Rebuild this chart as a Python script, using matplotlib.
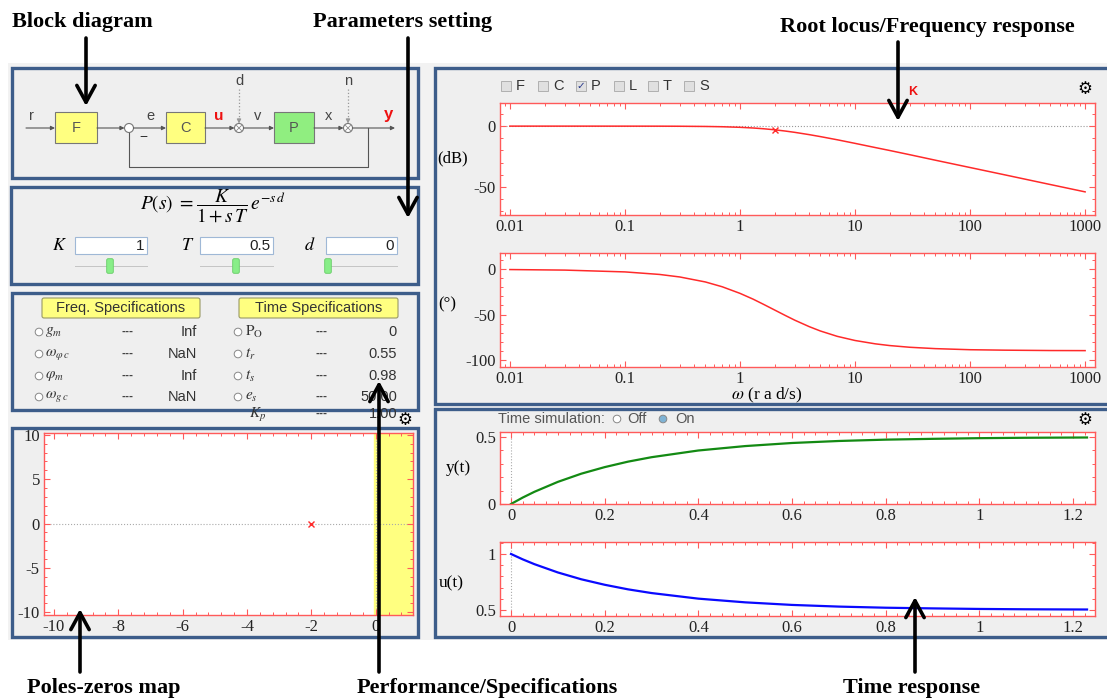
"""Control GUI screenshot (block diagram, specs, Bode, time response) redrawn with matplotlib."""

import matplotlib

matplotlib.use("Agg")
import matplotlib.pyplot as plt
from matplotlib.patches import Circle, FancyBboxPatch, Rectangle
from matplotlib.ticker import FuncFormatter, LogLocator, MultipleLocator, NullFormatter

W, H = 1107, 698

# ---- data ----
# Bode of P(s) = K/(1+sT) e^{-sd}, K=1, T=0.5, d=0
omega = [0.01, 0.03, 0.1, 0.2, 0.3, 0.5, 0.7, 1, 1.3, 1.6, 2, 2.5, 3, 4, 5, 7, 10, 15, 20,
         30, 50, 100, 200, 500, 1000]
mag_db = [0, 0, -0.02, -0.04, -0.1, -0.27, -0.5, -0.97, -1.53, -2.15, -3.01, -4.09, -5.12,
          -6.99, -8.6, -11.2, -14.15, -17.6, -20.0, -23.5, -28.0, -34.0, -40.0, -48.0, -54.0]
phase_deg = [-0.3, -0.9, -2.9, -5.7, -8.5, -14.0, -19.3, -26.6, -33.0, -38.7, -45.0, -51.3,
             -56.3, -63.4, -68.2, -74.1, -78.7, -82.4, -84.3, -86.2, -87.7, -88.9, -89.4,
             -89.8, -89.9]
marker_omega = [2.0]
marker_db = [-3.0]

# closed loop step response
t = [0, 0.025, 0.05, 0.1, 0.15, 0.2, 0.25, 0.3, 0.4, 0.5, 0.6, 0.7, 0.8, 0.9, 1.0, 1.1, 1.23]
y_t = [0, 0.048, 0.091, 0.165, 0.226, 0.275, 0.316, 0.349, 0.399, 0.432, 0.455, 0.470,
       0.480, 0.486, 0.491, 0.494, 0.496]
u_t = [1.0, 0.952, 0.909, 0.835, 0.774, 0.725, 0.684, 0.651, 0.601, 0.568, 0.545, 0.530,
       0.520, 0.514, 0.509, 0.506, 0.504]

# poles / zeros
pole_re = [-2.0]
pole_im = [0.0]

# specification table
freq_specs = [r"$g_m$", r"$\omega_{\varphi\, c}$", r"$\varphi_m$", r"$\omega_{g\, c}$"]
freq_vals = ["Inf", "NaN", "Inf", "NaN"]
time_specs = [r"$\mathrm{P_O}$", r"$t_r$", r"$t_s$", r"$e_s$"]
time_vals = ["0", "0.55", "0.98", "50.00"]

param_names = ["K", "T", "d"]
param_vals = ["1", "0.5", "0"]
checkboxes = ["F", "C", "P", "L", "T", "S"]
checked = "P"

# ---- styles ----
PANEL_BG = "#efefef"
PANEL_EDGE = "#3d5d8a"
FRAME_RED = "#ff5a5a"
CURVE_RED = "#ff2a2a"
SANS = "Liberation Sans"
SERIF = "Liberation Serif"
GRAY_TXT = "#444444"
TICK_FS = 12

plt.rcParams["font.family"] = [SERIF, "DejaVu Serif"]
plt.rcParams["mathtext.fontset"] = "stix"
plt.rcParams["axes.unicode_minus"] = False

fig = plt.figure(figsize=(W / 100, H / 100), dpi=100, facecolor="white")

bg = fig.add_axes([0, 0, 1, 1], zorder=0)
bg.set_xlim(0, W)
bg.set_ylim(H, 0)
bg.axis("off")

fg = fig.add_axes([0, 0, 1, 1], zorder=20)
fg.set_xlim(0, W)
fg.set_ylim(H, 0)
fg.axis("off")


def px_axes(x0, y0, x1, y1):
    return fig.add_axes([x0 / W, 1 - y1 / H, (x1 - x0) / W, (y1 - y0) / H], zorder=5)


def style_plot(ax):
    for s in ax.spines.values():
        s.set_color(FRAME_RED)
        s.set_linewidth(1.0)
    ax.tick_params(which="both", direction="in", color=FRAME_RED, top=True, right=True,
                   labelsize=TICK_FS, labelcolor="#222222", pad=3)
    ax.tick_params(which="major", length=4, width=0.8)
    ax.tick_params(which="minor", length=2.5, width=0.7)


def panel(x0, y0, x1, y1):
    bg.add_patch(Rectangle((x0, y0), x1 - x0, y1 - y0, facecolor=PANEL_BG,
                           edgecolor=PANEL_EDGE, lw=2.4))


def arrow(ax, x0, y0, x1, y1, color="#555555", lw=0.8, scale=6, style="-|>"):
    ax.annotate("", xy=(x1, y1), xytext=(x0, y0),
                arrowprops=dict(arrowstyle=style, color=color, lw=lw,
                                mutation_scale=scale, shrinkA=0, shrinkB=0))


def radio(ax, x, y, filled=False):
    ax.add_patch(Circle((x, y), 3.8, facecolor="#7fb3d5" if filled else "white",
                        edgecolor="#888888", lw=0.7, zorder=3))


# app background
bg.add_patch(Rectangle((8, 63), W - 8, 577, facecolor="#f2f2f2", edgecolor="none"))

# panels
panel(12, 68, 418, 178)
panel(11, 187, 418, 284)
panel(12, 293, 418, 410)
panel(12, 428, 418, 637)
panel(435, 68, 1112, 404)
panel(435, 409, 1112, 637)

# ---- block diagram ----
LINE = "#555555"
UI_FS = 10.5
ymain = 128
arrow(bg, 26, ymain, 55, ymain)
bg.add_patch(Rectangle((55, 112), 42, 31, facecolor="#ffff80", edgecolor="#777777", lw=0.8))
bg.text(76, 128, "F", ha="center", va="center", fontsize=UI_FS, family=SANS, color="#555555")
arrow(bg, 97, ymain, 124.5, ymain)
bg.add_patch(Circle((129, ymain), 4.5, facecolor="white", edgecolor="#777777", lw=0.8, zorder=3))
arrow(bg, 133.5, ymain, 166, ymain)
bg.add_patch(Rectangle((166, 112), 39, 31, facecolor="#ffff80", edgecolor="#777777", lw=0.8))
bg.text(185.5, 128, "C", ha="center", va="center", fontsize=UI_FS, family=SANS, color="#555555")
arrow(bg, 205, ymain, 234.5, ymain)
bg.add_patch(Circle((239, ymain), 4.5, facecolor="white", edgecolor="#777777", lw=0.8, zorder=3))
arrow(bg, 243.5, ymain, 274, ymain)
bg.add_patch(Rectangle((274, 112), 40, 31, facecolor="#90ee80", edgecolor="#777777", lw=0.8))
bg.text(294, 128, "P", ha="center", va="center", fontsize=UI_FS, family=SANS, color="#555555")
arrow(bg, 314, ymain, 343.5, ymain)
bg.add_patch(Circle((348, ymain), 4.5, facecolor="white", edgecolor="#777777", lw=0.8, zorder=3))
arrow(bg, 352.5, ymain, 395, ymain)
for cx in (239, 348):
    bg.plot([cx - 2.5, cx + 2.5], [ymain - 2.5, ymain + 2.5], color="#888888", lw=0.6, zorder=4)
    bg.plot([cx - 2.5, cx + 2.5], [ymain + 2.5, ymain - 2.5], color="#888888", lw=0.6, zorder=4)
    bg.plot([cx, cx], [89, ymain - 8], color="#999999", lw=0.9, ls=":")
    arrow(bg, cx, ymain - 9, cx, ymain - 4.5, color="#999999", lw=0.8)
bg.plot([368, 368, 129, 129], [ymain, 167, 167, ymain + 4.5], color=LINE, lw=0.8)
for x, s in [(31, "r"), (150, "e"), (258, "v"), (329, "x")]:
    bg.text(x, 116, s, ha="center", va="center", fontsize=UI_FS, family=SANS, color=GRAY_TXT)
bg.text(239, 81, "d", ha="center", va="center", fontsize=UI_FS, family=SANS, color=GRAY_TXT)
bg.text(348, 81, "n", ha="center", va="center", fontsize=UI_FS, family=SANS, color=GRAY_TXT)
bg.text(219, 116, "u", ha="center", va="center", fontsize=11, family=SANS, color="#ee1111",
        weight="bold")
bg.text(388, 115, "y", ha="center", va="center", fontsize=12, family=SANS, color="#ee1111",
        weight="bold")
bg.text(143, 137, "−", ha="center", va="center", fontsize=10, family=SANS, color="#333333")

# ---- parameter panel ----
bg.text(213, 206, r"$P(s)\ =\dfrac{K}{1+s\,T}\,e^{-s\,d}$", ha="center", va="center",
        fontsize=14)
box_x = [(75, 147, 60), (200, 273, 188), (326, 397, 310)]
for (x0, x1, xl), name, val in zip(box_x, param_names, param_vals):
    bg.text(xl, 245, f"${name}$", ha="center", va="center", fontsize=13)
    bg.add_patch(Rectangle((x0, 237), x1 - x0, 17, facecolor="white", edgecolor="#9fb8d6", lw=0.8))
    bg.text(x1 - 3, 246, val, ha="right", va="center", fontsize=11, family=SANS, color="#222222")
    bg.plot([x0, x1], [266, 266], color="#c4c4c4", lw=0.7)
handles = [110, 236, 328]
for hx in handles:
    bg.add_patch(FancyBboxPatch((hx - 3, 259), 6, 14, boxstyle="round,pad=0.3,rounding_size=1.5",
                                facecolor="#88ee88", edgecolor="#66cc66", lw=0.6, zorder=3))

# ---- specifications panel ----
for x0, x1, label in [(42, 200, "Freq. Specifications"), (239, 398, "Time Specifications")]:
    bg.add_patch(FancyBboxPatch((x0, 298), x1 - x0, 20, boxstyle="round,pad=0,rounding_size=2",
                                facecolor="#ffff80", edgecolor="#999966", lw=0.8))
    bg.text((x0 + x1) / 2, 308, label, ha="center", va="center", fontsize=10.5, family=SANS,
            color="#333333")
SYM_FS = 11
rows_y = [332, 354, 376, 397]
for ry, fs, fv, ts, tv in zip(rows_y, freq_specs, freq_vals, time_specs, time_vals):
    radio(bg, 39, ry)
    bg.text(45, ry, fs, ha="left", va="center", fontsize=SYM_FS, color="#333333")
    bg.text(127, ry, "---", ha="center", va="center", fontsize=8.5, family=SANS, color=GRAY_TXT,
            weight="bold")
    bg.text(197, ry, fv, ha="right", va="center", fontsize=UI_FS, family=SANS, color="#333333")
    radio(bg, 238, ry)
    bg.text(245, ry, ts, ha="left", va="center", fontsize=SYM_FS, color="#333333")
    bg.text(322, ry, "---", ha="center", va="center", fontsize=8.5, family=SANS, color=GRAY_TXT,
            weight="bold")
    bg.text(397, ry, tv, ha="right", va="center", fontsize=UI_FS, family=SANS, color="#333333")
bg.text(249, 415, r"$K_p$", ha="left", va="center", fontsize=SYM_FS, color="#333333")
bg.text(322, 414, "---", ha="center", va="center", fontsize=8.5, family=SANS, color=GRAY_TXT,
        weight="bold")
bg.text(397, 414, "1.00", ha="right", va="center", fontsize=UI_FS, family=SANS, color="#333333")

# gear icons
for gx, gy in [(405, 420), (1085, 89), (1085, 420)]:
    bg.text(gx, gy, "\u2699", ha="center", va="center", fontsize=12, family="DejaVu Sans",
            color="black", weight="bold")

# ---- pole-zero map ----
pz = px_axes(44, 433, 413, 615)
pz.set_xlim(-10.31, 1.16)
pz.set_ylim(-10.3, 10.2)
pz.axvspan(-0.05, 1.16, color="#ffff80", zorder=0)
pz.axhline(0, color="#aaaaaa", lw=0.8, ls=":", zorder=1)
pz.axvline(0, color="#aaaaaa", lw=0.8, ls=":", zorder=1)
pz.plot(pole_re, pole_im, "x", color=CURVE_RED, ms=5, mew=1)
pz.xaxis.set_major_locator(MultipleLocator(2))
pz.xaxis.set_minor_locator(MultipleLocator(0.4))
pz.yaxis.set_major_locator(MultipleLocator(5))
pz.yaxis.set_minor_locator(MultipleLocator(1))
style_plot(pz)

# ---- Bode plots ----
decade_fmt = FuncFormatter(lambda v, _: f"{v:g}")
xl = (10 ** -2.086, 10 ** 3.086)

mag = px_axes(500, 103, 1095, 215)
mag.axhline(0, color="#999999", lw=0.8, ls=":", zorder=1)
mag.semilogx(omega, mag_db, color=CURVE_RED, lw=1.1)
mag.plot(marker_omega, marker_db, "x", color=CURVE_RED, ms=5, mew=1)
mag.set_xlim(*xl)
mag.set_ylim(-73, 19)
mag.yaxis.set_major_locator(MultipleLocator(50))
mag.yaxis.set_minor_locator(MultipleLocator(10))

ph = px_axes(500, 253, 1095, 367)
ph.semilogx(omega, phase_deg, color=CURVE_RED, lw=1.1)
ph.set_xlim(*xl)
ph.set_ylim(-108, 18)
ph.yaxis.set_major_locator(MultipleLocator(50))
ph.yaxis.set_minor_locator(MultipleLocator(10))

for ax in (mag, ph):
    ax.xaxis.set_major_locator(LogLocator(base=10, numticks=10))
    ax.xaxis.set_minor_locator(LogLocator(base=10, subs=(2, 3, 4, 5, 6, 7, 8, 9), numticks=20))
    ax.xaxis.set_major_formatter(decade_fmt)
    ax.xaxis.set_minor_formatter(NullFormatter())
    style_plot(ax)

bg.text(453, 158, "(dB)", ha="center", va="center", fontsize=12)
bg.text(447, 304, "(°)", ha="center", va="center", fontsize=12)
bg.text(767, 395, r"$\omega$ (r a d/s)", ha="center", va="center", fontsize=12.5)

# checkbox row
cb_x = [506, 543, 581, 619, 653, 689]
for cx, lab in zip(cb_x, checkboxes):
    bg.add_patch(Rectangle((cx - 5, 81), 10, 10, facecolor="#e0e0e0", edgecolor="#b0b0b0", lw=0.7))
    if lab == checked:
        bg.text(cx, 86.5, "\u2713", ha="center", va="center", fontsize=7.5,
                family="DejaVu Sans", color="#223388")
    bg.text(cx + 10, 86, lab, ha="left", va="center", fontsize=10.5, family=SANS, color="#333333")
bg.text(913, 92, "K", ha="center", va="center", fontsize=9, family=SANS, color="#ee1111",
        weight="bold")

# ---- time response ----
bg.text(498, 419, "Time simulation:", ha="left", va="center", fontsize=10.5, family=SANS,
        color="#555555")
radio(bg, 617, 419)
bg.text(627, 419, "Off", ha="left", va="center", fontsize=10.5, family=SANS, color="#555555")
radio(bg, 663, 419, filled=True)
bg.text(675, 419, "On", ha="left", va="center", fontsize=10.5, family=SANS, color="#555555")

tx = (-0.0235, 1.247)
yax = px_axes(500, 432, 1095, 504)
yax.axvline(0, color="#aaaaaa", lw=0.8, ls=":", zorder=1)
yax.plot(t, y_t, color="#138a13", lw=1.6)
yax.set_xlim(*tx)
yax.set_ylim(0, 0.537)
yax.yaxis.set_major_locator(MultipleLocator(0.5))
yax.yaxis.set_minor_locator(MultipleLocator(0.1))

uax = px_axes(500, 542, 1095, 616)
uax.axvline(0, color="#aaaaaa", lw=0.8, ls=":", zorder=1)
uax.plot(t, u_t, color="#0a0aff", lw=1.6)
uax.set_xlim(*tx)
uax.set_ylim(0.446, 1.107)
uax.yaxis.set_major_locator(MultipleLocator(0.5))
uax.yaxis.set_minor_locator(MultipleLocator(0.1))

for ax in (yax, uax):
    ax.xaxis.set_major_locator(MultipleLocator(0.2))
    ax.xaxis.set_minor_locator(MultipleLocator(0.025))
    ax.xaxis.set_major_formatter(decade_fmt)
    ax.yaxis.set_major_formatter(decade_fmt)
    style_plot(ax)

bg.text(458, 468, "y(t)", ha="center", va="center", fontsize=12.5)
bg.text(451, 583, "u(t)", ha="center", va="center", fontsize=12.5)

# ---- callout labels and arrows ----
notes = [
    (12, 22, "Block diagram"),
    (313, 22, "Parameters setting"),
    (780, 27, "Root locus/Frequency response"),
    (27, 688, "Poles-zeros map"),
    (357, 688, "Performance/Specifications"),
    (843, 688, "Time response"),
]
for x, y, s in notes:
    fg.text(x, y, s, ha="left", va="center", fontsize=16, weight="bold", family=SERIF)

big = "->,head_length=0.55,head_width=0.3"
arrow(fg, 86, 38, 86, 106, color="black", lw=2.6, scale=22, style=big)
arrow(fg, 408, 38, 408, 218, color="black", lw=2.6, scale=22, style=big)
arrow(fg, 898, 42, 898, 121, color="black", lw=2.6, scale=22, style=big)
arrow(fg, 80, 672, 80, 609, color="black", lw=2.6, scale=22, style=big)
arrow(fg, 379, 672, 379, 381, color="black", lw=2.6, scale=22, style=big)
arrow(fg, 915, 672, 915, 597, color="black", lw=2.6, scale=22, style=big)

fig.savefig("out.png", dpi=100, facecolor="white")
